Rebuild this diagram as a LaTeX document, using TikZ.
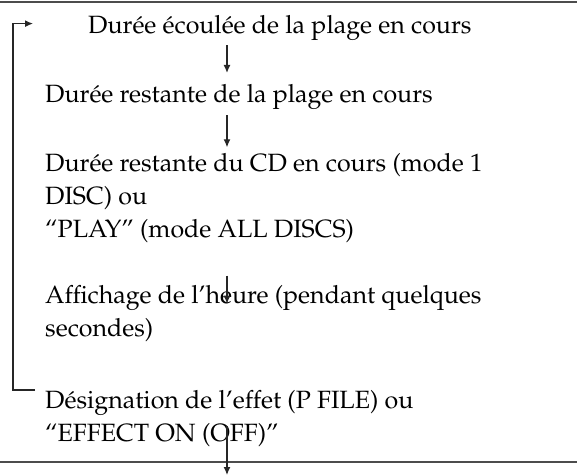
\documentclass[tikz,border=0pt]{standalone}
\usepackage[T1]{fontenc}
\usepackage{mathpazo}
\usepackage{tikz}
\usetikzlibrary{arrows.meta, positioning}

\tikzset{
    entry/.style={
        inner sep=0pt,
        align=left,
        anchor=north west,
        font=\fontsize{25pt}{33pt}\selectfont,
        text=black,
        execute at begin node=\strut,
        execute at end node=\strut,
    },
    flow/.style={
        draw=black!85,
        line width=1.2pt,
        -{Latex[length=8pt,width=7pt]},
    },
    rule/.style={
        draw=black!70,
        line width=1.6pt,
    },
}

\begin{document}
\begin{tikzpicture}[x=1pt, y=-1pt]

\useasboundingbox (0,0) rectangle (582,476);

\node [entry] (elapsed) at (88,9.9) {Durée écoulée de la plage en cours};

\node [entry] (trackleft) at (45,78.9) {Durée restante de la plage en cours};

\node [entry,
    below=41pt of trackleft.south west,
    anchor=north west
] (discleft) {Durée restante du CD en cours (mode 1\\DISC) ou\\``PLAY'' (mode ALL DISCS)};

\node [entry,
    below=38pt of discleft.south west,
    anchor=north west
] (clock) {Affichage de l'heure (pendant quelques\\secondes)};

\node [entry,
    below=43pt of clock.south west,
    anchor=north west
] (effect) {Désignation de l'effet (P FILE) ou\\``EFFECT ON (OFF)''};

\coordinate (spine) at (227,0);
\coordinate (exit) at (227,475);

\draw [rule] (0,2) -- (577,2);
\draw [rule] (0,462) -- (577,462);

\draw [flow] ([yshift=-2pt]spine |- elapsed.south) -- ([yshift=6pt]spine |- trackleft.north);
\draw [flow] ([yshift=-3pt]spine |- trackleft.south) -- ([yshift=6pt]spine |- discleft.north);
\draw [flow] ([yshift=-28pt]spine |- discleft.south) -- ([yshift=-18pt]spine |- clock.north);
\draw [flow] ([yshift=25pt]spine |- effect.south) -- (exit);

% retour vers le debut
\draw [flow] ([xshift=-10pt]effect.north west) -- ++(-22,0) |- ([xshift=-55pt, yshift=3pt]elapsed.west);

\end{tikzpicture}
\end{document}
